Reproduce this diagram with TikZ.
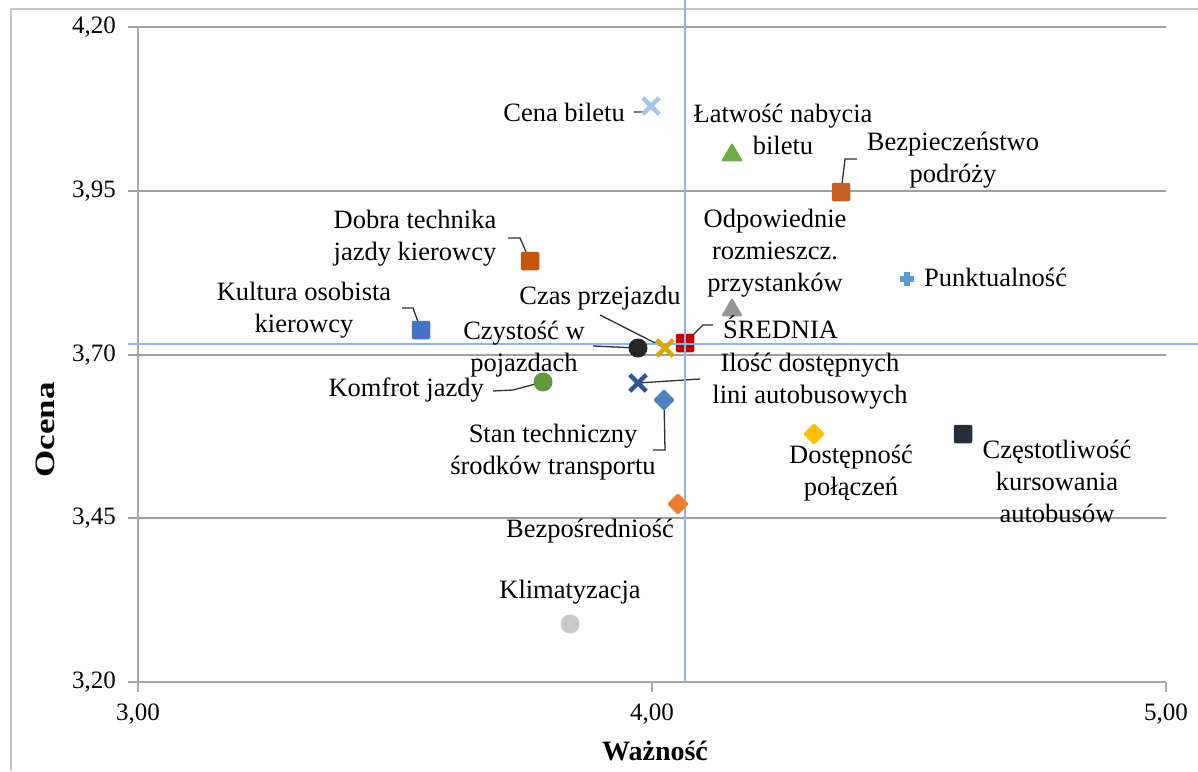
\documentclass[tikz,border=0pt]{standalone}
\usepackage{fontspec}
\setmainfont{Liberation Serif}
\usetikzlibrary{shapes.geometric,shapes.misc,calc}
\definecolor{cGrid}{HTML}{A0A0A0}
\definecolor{cAxis}{HTML}{A8A8A8}
\definecolor{cMean}{HTML}{8DB4E2}
\definecolor{cBorder}{HTML}{C4C4C4}
\definecolor{cLead}{HTML}{303030}
\definecolor{cCena}{HTML}{A9C4EB}
\definecolor{cLat}{HTML}{70AD47}
\definecolor{cBezp}{HTML}{C65E24}
\definecolor{cDobra}{HTML}{C4560F}
\definecolor{cKult}{HTML}{4472C4}
\definecolor{cOdp}{HTML}{959595}
\definecolor{cPunkt}{HTML}{5B9BD5}
\definecolor{cSred}{HTML}{C00000}
\definecolor{cCzas}{HTML}{D9A300}
\definecolor{cCzyst}{HTML}{262626}
\definecolor{cIlosc}{HTML}{2F5597}
\definecolor{cKomf}{HTML}{62993E}
\definecolor{cStan}{HTML}{4E81BD}
\definecolor{cBezpo}{HTML}{ED7D31}
\definecolor{cDost}{HTML}{FFC000}
\definecolor{cCzest}{HTML}{252D3B}
\definecolor{cKlim}{HTML}{C8C8C8}
\begin{document}
\begin{tikzpicture}[x=1pt,y=-1pt,
  lbl/.style={font=\fontsize{26.5}{32}\selectfont, inner sep=0pt, align=center},
  ticklbl/.style={font=\fontsize{25}{25}\selectfont, inner sep=0pt},
  axtitle/.style={font=\fontsize{28}{28}\selectfont\bfseries, inner sep=0pt},
  grid/.style={draw=cGrid, line width=1.3pt},
  axisline/.style={draw=cAxis, line width=2pt},
  meanline/.style={draw=cMean, line width=1.6pt},
  leader/.style={draw=cLead, line width=1.3pt},
  sqm/.style={rectangle, rounded corners=2pt, minimum size=18.5pt, inner sep=0pt},
  circm/.style={circle, minimum size=19pt, inner sep=0pt},
  trim/.style={regular polygon, regular polygon sides=3, minimum size=25pt, inner sep=0pt, rounded corners=2pt},
  diam/.style={diamond, minimum size=22pt, inner sep=0pt, rounded corners=2pt},
  xm/.style={cross out, line width=4.4pt, minimum size=12pt, inner sep=0pt}
]
\useasboundingbox (0,0) rectangle (1198,771);
% outer border
\coordinate (bTL) at (11,9);
\coordinate (bTR) at (1198,9);
\coordinate (bBL) at (11,771);
\draw[draw=cBorder, line width=2pt] (bBL) -- (bTL) -- (bTR);

% grid
\foreach \yy/\nm in {27/a,191/b,355/c,518/d}{
  \coordinate (g\nm L) at (128,\yy);
  \coordinate (g\nm R) at (1166,\yy);
  \draw[grid] (g\nm L) -- (g\nm R);
}
% axes
\coordinate (axTop) at (138,27);
\coordinate (axO) at (138,682);
\coordinate (axR) at (1166,682);
\draw[axisline] (axTop) -- (axO) -- (axR);
\coordinate (tyL) at (128,682);
\draw[axisline] (tyL) -- (axO);
\foreach \xx/\nm in {138/a,652/b,1166/c}{
  \coordinate (tx\nm T) at (\xx,682);
  \coordinate (tx\nm B) at (\xx,692);
  \draw[axisline] (tx\nm T) -- (tx\nm B);
}
% tick labels
\node[ticklbl, anchor=east] (y420) at (116,27) {4,20};
\node[ticklbl, anchor=east] (y395) at (116,191) {3,95};
\node[ticklbl, anchor=east] (y370) at (116,355) {3,70};
\node[ticklbl, anchor=east] (y345) at (116,518) {3,45};
\node[ticklbl, anchor=east] (y320) at (116,682) {3,20};
\node[ticklbl] (x300) at (138,714) {3,00};
\node[ticklbl] (x400) at (652,714) {4,00};
\node[ticklbl] (x500) at (1166,714) {5,00};
% axis titles
\node[axtitle] (xtitle) at (655,751) {Ważność};
\node[axtitle, rotate=90, xscale=1.25] (ytitle) at (45,430) {Ocena};

% leaders (coordinates)
\coordinate (cenaL1) at (634,112);
\coordinate (cenaL2) at (645,112);
\coordinate (bezpL1) at (857,159);
\coordinate (bezpL2) at (845,159);
\coordinate (dobraL1) at (508,238);
\coordinate (dobraL2) at (520,238);
\coordinate (kultL1) at (402,308);
\coordinate (kultL2) at (413,308);
\coordinate (sredL1) at (713,325);
\coordinate (sredL2) at (703,325);
\coordinate (czasL1) at (600,315);
\coordinate (czystL1) at (593,346);
\coordinate (iloscL1) at (700,379);
\coordinate (komfL1) at (493,391);
\coordinate (komfL2) at (513,390);
\coordinate (stanL1) at (653,450);
\coordinate (stanL2) at (665,450);

% marker anchors
\coordinate (sredP) at (685,343);
\coordinate (cenaP) at (651,106);
\coordinate (bezpP) at (841,192);
\coordinate (dobraP) at (530,261);
\coordinate (kultP) at (421,330);
\coordinate (czasP) at (665,348);
\coordinate (czystP) at (638,348);
\coordinate (iloscP) at (638,383);
\coordinate (komfP) at (543,382);
\coordinate (stanP) at (664,400);

\draw[leader] (cenaL1) -- (cenaL2) -- (cenaP);
\draw[leader] (bezpL1) -- (bezpL2) -- (bezpP);
\draw[leader] (dobraL1) -- (dobraL2) -- (dobraP);
\draw[leader] (kultL1) -- (kultL2) -- (kultP);
\draw[leader] (sredL1) -- (sredL2) -- (sredP);
\draw[leader] (czasL1) -- (czasP);
\draw[leader] (czystL1) -- (czystP);
\draw[leader] (iloscL1) -- (iloscP);
\draw[leader] (komfL1) -- (komfL2) -- (komfP);
\draw[leader] (stanL1) -- (stanL2) -- (stanP);

% SREDNIA marker under the mean lines
\node[sqm, fill=cSred] (sredM) at (sredP) {};
% mean lines
\coordinate (mhL) at (128,344);
\coordinate (mhR) at (1198,344);
\coordinate (mvT) at (685,0);
\coordinate (mvB) at (685,682);
\draw[meanline] (mhL) -- (mhR);
\draw[meanline] (mvT) -- (mvB);

% markers
\node[xm, draw=cCena] (cenaM) at (cenaP) {};
\node[trim, fill=cLat] (latM) at (732,155) {};
\node[sqm, fill=cBezp] (bezpM) at (bezpP) {};
\node[sqm, fill=cDobra] (dobraM) at (dobraP) {};
\node[sqm, fill=cKult] (kultM) at (kultP) {};
\node[trim, fill=cOdp] (odpM) at (732,310) {};
\node (punktM) at (907,279) {};
\fill[cPunkt] ($(punktM)+(-7,-2.6)$) rectangle ($(punktM)+(7,2.6)$);
\fill[cPunkt] ($(punktM)+(-2.6,-7)$) rectangle ($(punktM)+(2.6,7)$);
\node[xm, draw=cCzas] (czasM) at (czasP) {};
\node[circm, fill=cCzyst] (czystM) at (czystP) {};
\node[xm, draw=cIlosc] (iloscM) at (iloscP) {};
\node[circm, fill=cKomf] (komfM) at (komfP) {};
\node[diam, fill=cStan] (stanM) at (stanP) {};
\node[diam, fill=cBezpo] (bezpoM) at (678,504) {};
\node[diam, fill=cDost] (dostM) at (814,434) {};
\node[sqm, fill=cCzest] (czestM) at (963,434) {};
\node[circm, fill=cKlim] (klimM) at (570,624) {};

% labels
\node[lbl, anchor=east] (cenaT) at (625,112) {Cena biletu};
\node[lbl] (latT) at (783,129) {Łatwość nabycia\\biletu};
\node[lbl] (bezpT) at (953,160) {Bezpieczeństwo\\podróży};
\node[lbl] (dobraT) at (415,238) {Dobra technika\\jazdy kierowcy};
\node[lbl] (kultT) at (304,310) {Kultura osobista\\kierowcy};
\node[lbl] (odpT) at (775,253) {Odpowiednie\\rozmieszcz.\\przystanków};
\node[lbl, anchor=west] (punktT) at (924,277) {Punktualność};
\node[lbl, anchor=west] (sredT) at (723,327) {ŚREDNIA};
\node[lbl] (czasT) at (600,298) {Czas przejazdu};
\node[lbl] (czystT) at (524,349) {Czystość w\\pojazdach};
\node[lbl] (iloscT) at (810,381) {Ilość dostępnych\\lini autobusowych};
\node[lbl, anchor=east] (komfT) at (484,390) {Komfrot jazdy};
\node[lbl] (stanT) at (553,452) {Stan techniczny\\środków transportu};
\node[lbl] (bezpoT) at (590,531) {Bezpośredniość};
\node[lbl] (dostT) at (851,473) {Dostępność\\połączeń};
\node[lbl] (czestT) at (1057,481) {Częstotliwość\\kursowania\\autobusów};
\node[lbl] (klimT) at (570,592) {Klimatyzacja};
\end{tikzpicture}
\end{document}
